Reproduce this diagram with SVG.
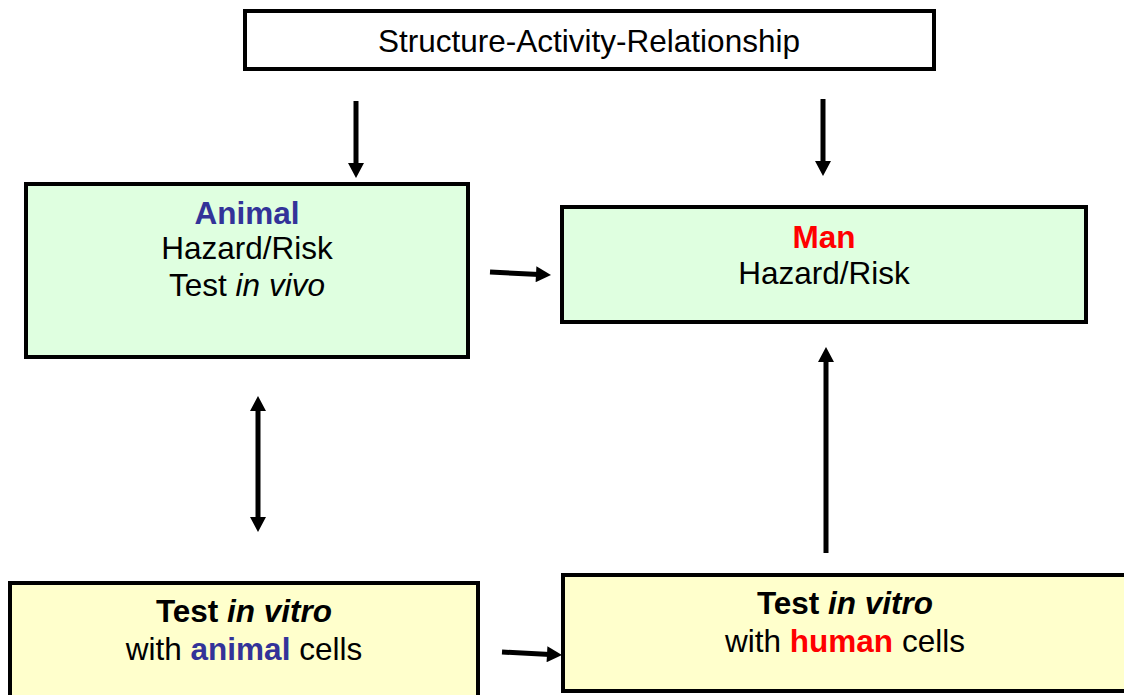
<svg xmlns="http://www.w3.org/2000/svg" width="1124" height="695" viewBox="0 0 1124 695">
<defs>
<marker id="ah" markerUnits="userSpaceOnUse" markerWidth="16" markerHeight="16" viewBox="0 0 15 16" refX="3" refY="8" orient="auto-start-reverse">
<path d="M0,0 L15,8 L0,16 z" fill="#000"/>
</marker>
</defs>
<style>
.box{stroke:#000;stroke-width:4}
.white{fill:#fff}
.green{fill:#DFFFE0}
.yellow{fill:#FFFFCC}
text{font-family:"Liberation Sans",Arial,sans-serif;font-size:31.5px;fill:#000;text-anchor:middle}
.b{font-weight:bold}
.i{font-style:italic}
.blue{fill:#333399}
.red{fill:#FF0000}
.conn{stroke:#000;stroke-width:5;fill:none;marker-end:url(#ah)}
</style>
<g id="sar">
<rect class="box white" x="245" y="11" width="689" height="58"/>
<text x="589" y="52">Structure-Activity-Relationship</text>
</g>
<g id="animal">
<rect class="box green" x="26" y="184" width="442" height="173"/>
<text x="247" y="224" class="b blue">Animal</text>
<text x="247" y="259">Hazard/Risk</text>
<text x="247" y="296">Test <tspan class="i">in vivo</tspan></text>
</g>
<g id="man">
<rect class="box green" x="562" y="207" width="524" height="115"/>
<text x="824" y="248" class="b red">Man</text>
<text x="824" y="284">Hazard/Risk</text>
</g>
<g id="vitro-animal">
<rect class="box yellow" x="10" y="583" width="468" height="120"/>
<text x="244" y="622" class="b">Test <tspan class="i">in vitro</tspan></text>
<text x="244" y="660">with <tspan class="b blue">animal</tspan> cells</text>
</g>
<g id="vitro-human">
<rect class="box yellow" x="563" y="575" width="570" height="116"/>
<text x="845" y="614" class="b">Test <tspan class="i">in vitro</tspan></text>
<text x="845" y="652">with <tspan class="b red">human</tspan> cells</text>
</g>
<g id="connectors">
<line class="conn" x1="356" y1="101" x2="356" y2="166"/>
<line class="conn" x1="823" y1="99" x2="823" y2="164"/>
<line class="conn" x1="490" y1="272" x2="539" y2="274.4"/>
<line class="conn" x1="258" y1="408" x2="258" y2="520" style="marker-start:url(#ah)"/>
<line class="conn" x1="826" y1="553" x2="826" y2="359"/>
<line class="conn" x1="502" y1="652" x2="550" y2="654.4"/>
</g>
</svg>
